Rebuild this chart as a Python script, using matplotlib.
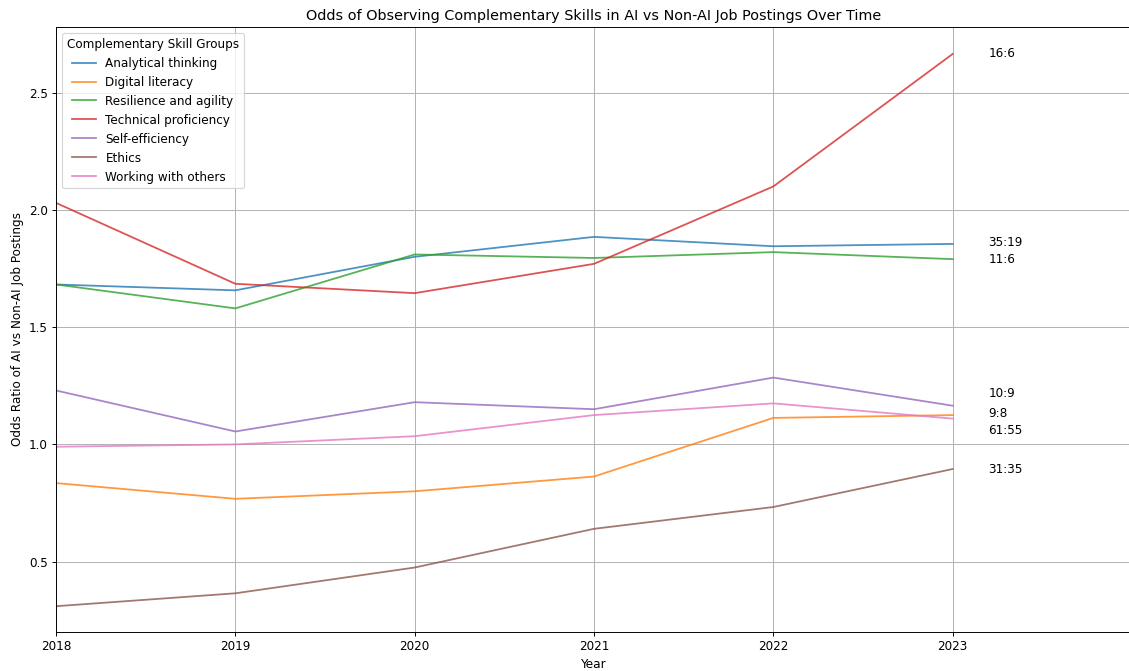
import matplotlib
matplotlib.use("Agg")
import matplotlib.pyplot as plt

# Data
years = [2018, 2019, 2020, 2021, 2022, 2023]

analytical = [1.682, 1.657, 1.80, 1.885, 1.845, 1.855]
digital = [0.835, 0.768, 0.80, 0.863, 1.113, 1.125]
resilience = [1.682, 1.58, 1.81, 1.795, 1.82, 1.79]
technical = [2.03, 1.685, 1.645, 1.77, 2.10, 2.665]
self_eff = [1.23, 1.055, 1.18, 1.15, 1.285, 1.165]
ethics = [0.31, 0.365, 0.475, 0.64, 0.733, 0.895]
working = [0.99, 1.0, 1.035, 1.125, 1.175, 1.11]

series = {
    "Analytical thinking": analytical,
    "Digital literacy": digital,
    "Resilience and agility": resilience,
    "Technical proficiency": technical,
    "Self-efficiency": self_eff,
    "Ethics": ethics,
    "Working with others": working,
}

# end-of-line ratio labels
ratio_labels = ["16:6", "35:19", "11:6", "10:9", "9:8", "61:55", "31:35"]
ratio_y = [2.665, 1.86, 1.79, 1.217, 1.13, 1.06, 0.895]
label_x = 2023.2


def main():
    dpi = 86
    fig = plt.figure(figsize=(1129 / dpi, 671 / dpi), dpi=dpi)
    ax = fig.add_axes([56 / 1129, 39 / 671, 1076 / 1129, 605 / 671])

    for name, vals in series.items():
        ax.plot(years, vals, label=name, alpha=0.8)

    for txt, y in zip(ratio_labels, ratio_y):
        ax.text(label_x, y, txt, va="center", ha="left", fontsize=10)

    ax.set_xlim(2018, 2024)
    ax.set_ylim(0.2, 2.78)
    ax.set_xticks(years)
    ax.set_yticks([0.5, 1.0, 1.5, 2.0, 2.5])
    ax.grid(True)

    ax.set_title("Odds of Observing Complementary Skills in AI vs Non-AI Job Postings Over Time")
    ax.set_xlabel("Year")
    ax.set_ylabel("Odds Ratio of AI vs Non-AI Job Postings")
    ax.legend(title="Complementary Skill Groups", loc="upper left")

    fig.savefig("out.png", dpi=dpi)


if __name__ == "__main__":
    main()
